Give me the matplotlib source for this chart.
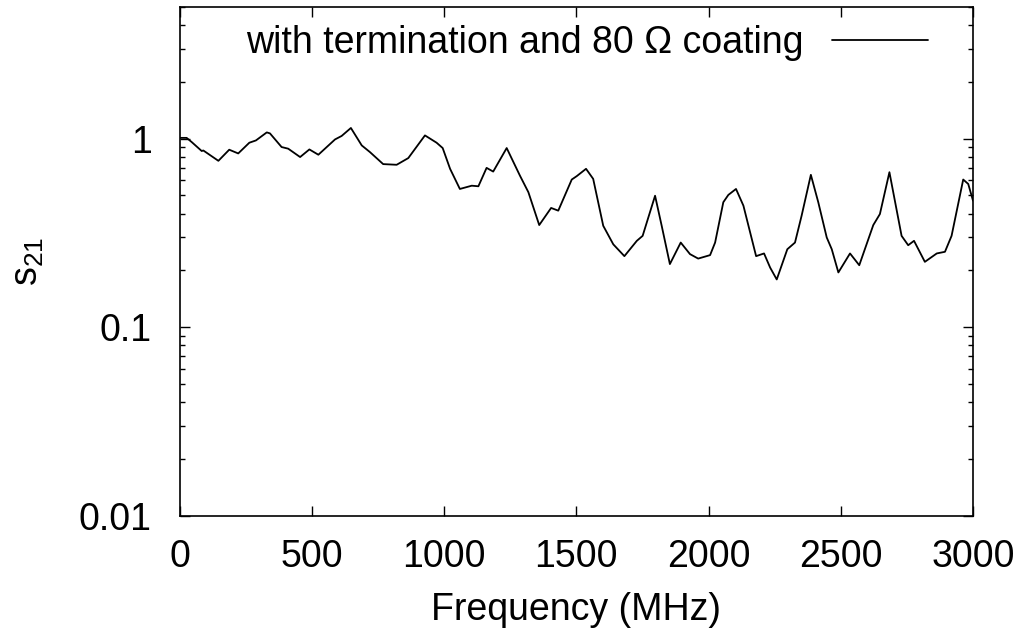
import matplotlib
matplotlib.use("Agg")
import matplotlib.pyplot as plt
from matplotlib.ticker import LogLocator, FixedLocator, NullFormatter

plt.rcParams['font.family'] = ['Liberation Sans', 'DejaVu Sans']
plt.rcParams['mathtext.fontset'] = 'custom'
plt.rcParams['mathtext.rm'] = 'Liberation Sans'

freq = [0, 27, 46, 84, 90, 147, 188, 222, 264, 289, 330, 342, 386, 411, 456, 491, 525,
        588, 613, 648, 689, 720, 770, 821, 865, 928, 972, 995, 1023, 1060, 1105, 1130,
        1161, 1186, 1237, 1287, 1319, 1360, 1405, 1432, 1483, 1502, 1537, 1564, 1602,
        1640, 1682, 1729, 1751, 1798, 1823, 1854, 1895, 1930, 1961, 2006, 2025, 2056,
        2075, 2104, 2132, 2180, 2210, 2233, 2258, 2298, 2327, 2352, 2387, 2415, 2447,
        2466, 2491, 2535, 2570, 2623, 2648, 2684, 2730, 2755, 2777, 2818, 2863, 2894,
        2919, 2963, 2982, 3000]
s21 = [1.01, 1.01, 0.96, 0.86, 0.866, 0.763, 0.874, 0.835, 0.952, 0.979, 1.08, 1.067,
       0.903, 0.885, 0.799, 0.877, 0.822, 0.991, 1.034, 1.14, 0.921, 0.849, 0.733, 0.727,
       0.789, 1.041, 0.952, 0.892, 0.692, 0.541, 0.563, 0.559, 0.700, 0.669, 0.892, 0.637,
       0.520, 0.348, 0.429, 0.415, 0.607, 0.633, 0.692, 0.612, 0.345, 0.275, 0.238, 0.287,
       0.305, 0.498, 0.345, 0.216, 0.281, 0.244, 0.231, 0.241, 0.281, 0.460, 0.503, 0.541,
       0.441, 0.238, 0.246, 0.207, 0.179, 0.259, 0.281, 0.390, 0.643, 0.460, 0.299, 0.259,
       0.195, 0.246, 0.213, 0.348, 0.398, 0.664, 0.305, 0.272, 0.287, 0.222, 0.246, 0.251,
       0.305, 0.607, 0.575, 0.469]

xticks = [0, 500, 1000, 1500, 2000, 2500, 3000]
yticks = [0.01, 0.1, 1]
ytick_labels = ['0.01', '0.1', '1']
series_label = 'with termination and 80 \u03a9 coating'

fig = plt.figure(figsize=(10.21, 6.38), dpi=100)
ax = fig.add_axes([179.5 / 1021, 1 - 515.5 / 638, (973 - 179.5) / 1021, (515.5 - 7) / 638])

ax.plot(freq, s21, color='black', lw=1.3, label=series_label,
        solid_joinstyle='round', solid_capstyle='round')
ax.set_yscale('log')
ax.set_xlim(0, 3000)
ax.set_ylim(0.01, 5)

ax.xaxis.set_major_locator(FixedLocator(xticks))
ax.yaxis.set_major_locator(FixedLocator(yticks))
ax.set_yticklabels(ytick_labels)
ax.yaxis.set_minor_locator(LogLocator(base=10, subs=range(2, 10), numticks=20))
ax.yaxis.set_minor_formatter(NullFormatter())

fs = 27
ax.tick_params(axis='both', which='major', direction='in', length=7, width=1,
               top=True, right=True, labelsize=fs)
ax.tick_params(axis='y', which='major', pad=20)
ax.tick_params(axis='x', which='major', pad=17)
ax.tick_params(axis='y', which='minor', direction='in', length=3.5, width=1, right=True)
ax.tick_params(axis='x', which='minor', bottom=False, top=False)
for sp in ax.spines.values():
    sp.set_linewidth(1.2)

ax.set_xlabel('Frequency (MHz)', fontsize=fs, labelpad=12)
ax.set_ylabel(r'$\mathregular{s_{21}}$', fontsize=fs)
ax.yaxis.set_label_coords(-0.168, 0.5)

ax.legend(loc='upper right', frameon=False, fontsize=fs, markerfirst=False,
          handlelength=2.56, borderaxespad=0, borderpad=0, handletextpad=0.77,
          bbox_to_anchor=(0.9433, 0.965))

fig.savefig('out.png', dpi=100)
